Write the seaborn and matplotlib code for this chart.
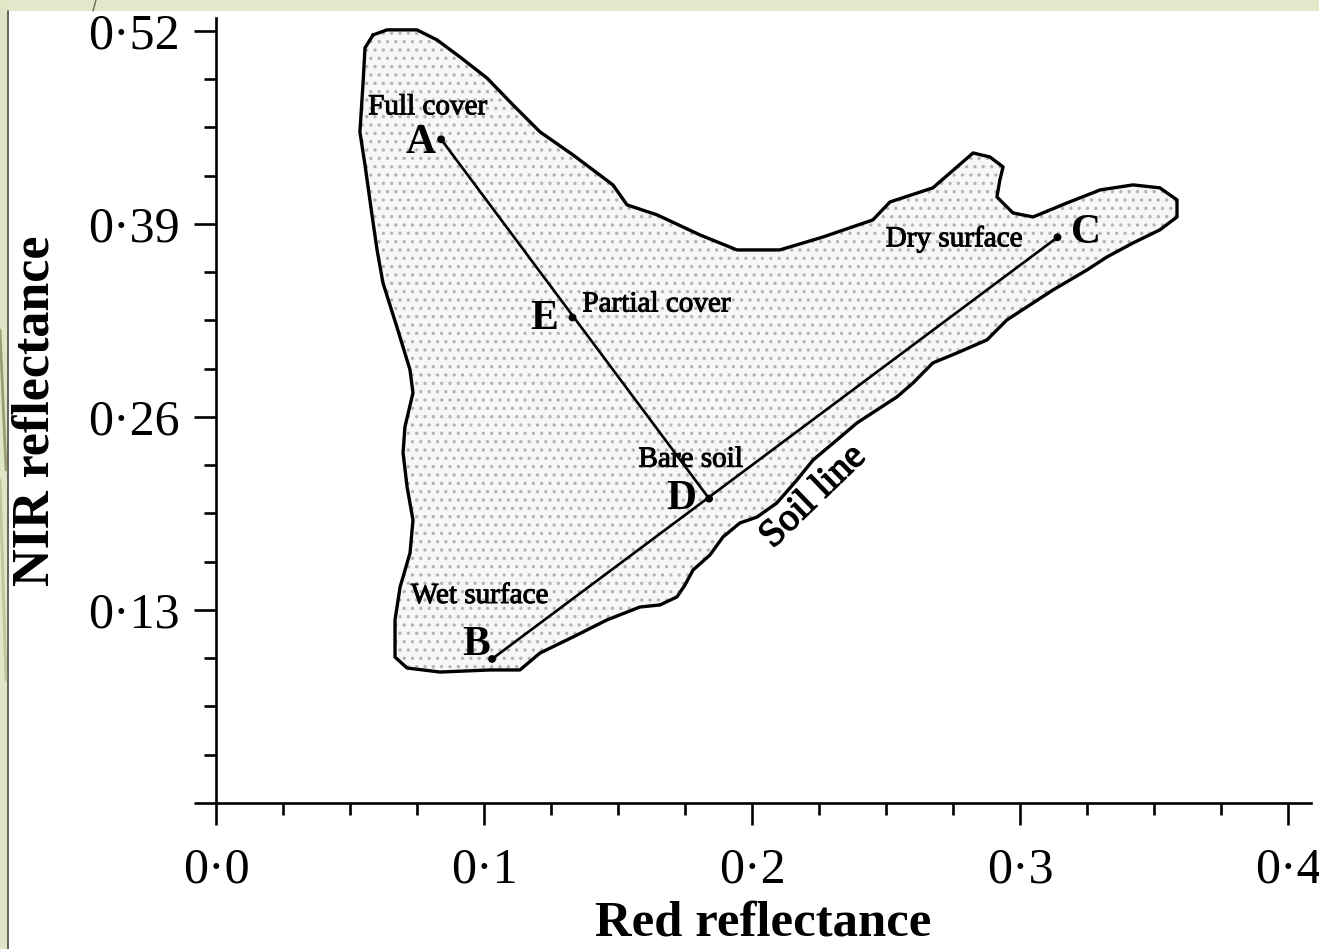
import matplotlib
matplotlib.use("Agg")
import matplotlib.pyplot as plt
from matplotlib.patches import Rectangle
from matplotlib.lines import Line2D
import matplotlib.patheffects as pe
import numpy as np
import pandas as pd
import seaborn as sns

# Surface states in red / NIR reflectance space
point_names = ["A", "B", "C", "D", "E"]
point_red = [0.084, 0.103, 0.314, 0.184, 0.133]
point_nir = [0.447, 0.097, 0.381, 0.205, 0.327]
point_desc = ["Full cover", "Wet surface", "Dry surface", "Bare soil", "Partial cover"]

# Segments joining the states: vegetation line A-D and soil line B-C
segment_starts = ["A", "B"]
segment_ends = ["D", "C"]

# Envelope of the observed pixel cloud
outline_red = [0.0586, 0.0556, 0.0549, 0.0537, 0.0556, 0.0582, 0.0601, 0.0623,
               0.0675, 0.0724, 0.0735, 0.0705, 0.0698, 0.0713, 0.0735, 0.0724,
               0.0687, 0.0668, 0.0668, 0.0713, 0.0836, 0.1022, 0.1134, 0.1209,
               0.1332, 0.1459, 0.1582, 0.1657, 0.1720, 0.1750, 0.1780, 0.1843,
               0.1892, 0.1955, 0.2019, 0.2093, 0.2168, 0.2228, 0.2317, 0.2392,
               0.2466, 0.2541, 0.2601, 0.2675, 0.2765, 0.2877, 0.2951, 0.3026,
               0.3123, 0.3250, 0.3325, 0.3422, 0.3522, 0.3586, 0.3586, 0.3522,
               0.3422, 0.3299, 0.3175, 0.3049, 0.2974, 0.2914, 0.2925, 0.2937,
               0.2888, 0.2825, 0.2765, 0.2675, 0.2515, 0.2451, 0.2265, 0.2104,
               0.1944, 0.1806, 0.1646, 0.1534, 0.1481, 0.1332, 0.1209, 0.1108,
               0.1011, 0.0910, 0.0825, 0.0750, 0.0638]
outline_nir = [0.5173, 0.5086, 0.4857, 0.4520, 0.4297, 0.3961, 0.3725, 0.3503,
               0.3206, 0.2917, 0.2762, 0.2533, 0.2358, 0.2129, 0.1906, 0.1684,
               0.1455, 0.1233, 0.0983, 0.0909, 0.0882, 0.0896, 0.0896, 0.1010,
               0.1118, 0.1233, 0.1320, 0.1334, 0.1388, 0.1468, 0.1569, 0.1670,
               0.1792, 0.1886, 0.1926, 0.2021, 0.2176, 0.2310, 0.2445, 0.2560,
               0.2647, 0.2735, 0.2829, 0.2964, 0.3031, 0.3119, 0.3253, 0.3341,
               0.3455, 0.3590, 0.3678, 0.3772, 0.3860, 0.3947, 0.4062, 0.4143,
               0.4163, 0.4129, 0.4041, 0.3947, 0.3974, 0.4082, 0.4196, 0.4284,
               0.4351, 0.4378, 0.4284, 0.4143, 0.4048, 0.3927, 0.3812, 0.3725,
               0.3725, 0.3826, 0.3961, 0.4028, 0.4163, 0.4365, 0.4520, 0.4702,
               0.4883, 0.5025, 0.5139, 0.5207, 0.5207]

x_ticks = [0.0, 0.1, 0.2, 0.3, 0.4]
x_tick_labels = ["0·0", "0·1", "0·2", "0·3", "0·4"]
y_ticks = [0.0, 0.13, 0.26, 0.39, 0.52]
y_tick_labels = ["", "0·13", "0·26", "0·39", "0·52"]

x_label = "Red reflectance"
y_label = "NIR reflectance"
soil_label = "Soil line"

sns.set_theme(style="ticks")
plt.rcParams["font.family"] = ["Liberation Serif", "DejaVu Serif"]
plt.rcParams["hatch.linewidth"] = 1.2

W, H = 1319, 949
fig = plt.figure(figsize=(W / 100, H / 100), dpi=100, facecolor="white")

# slide frame strips
fig.patches.append(Rectangle((0, 0), 7 / W, 1, transform=fig.transFigure,
                             facecolor="#dfe6c6", edgecolor="none", zorder=0))
fig.patches.append(Rectangle((7 / W, 1 - 11 / H), 1, 11 / H, transform=fig.transFigure,
                             facecolor="#e2e9cb", edgecolor="none", zorder=0))
fig.add_artist(Line2D([7.5 / W, 7.5 / W], [0, 1 - 11 / H], transform=fig.transFigure,
                      color="#4a4a3a", lw=1.2))
fig.add_artist(Line2D([0, 6 / W], [1 - 330 / H, 1 - 470 / H], transform=fig.transFigure,
                      color="#8c8a62", lw=2.0, alpha=0.8))
fig.add_artist(Line2D([0, 6 / W], [1 - 480 / H, 1 - 680 / H], transform=fig.transFigure,
                      color="#b9bc94", lw=2.0, alpha=0.8))
fig.add_artist(Line2D([93 / W, 96 / W], [1 - 11 / H, 1], transform=fig.transFigure,
                      color="#6b6a50", lw=1.0))

ax = fig.add_axes([216 / W, 1 - 803 / H, (1311 - 216) / W, (803 - 18) / H])
ax.set_facecolor("none")

# stippled cloud and its envelope
ax.fill(outline_red, outline_nir, facecolor="#f7f7f7", edgecolor="#b4b4b4",
        hatch="..", linewidth=0, zorder=1)
ax.plot(outline_red + outline_red[:1], outline_nir + outline_nir[:1], color="black",
        lw=2.4, solid_joinstyle="round", solid_capstyle="round", zorder=2)

pts = pd.DataFrame({"name": point_names, "red": point_red, "nir": point_nir,
                    "desc": point_desc}).set_index("name", drop=False)

seg_rows = []
for i, (s, e) in enumerate(zip(segment_starts, segment_ends)):
    for n in (s, e):
        seg_rows.append({"segment": i, "red": pts.loc[n, "red"], "nir": pts.loc[n, "nir"]})
seg_df = pd.DataFrame(seg_rows)

sns.lineplot(data=seg_df, x="red", y="nir", units="segment", estimator=None,
             sort=False, color="black", lw=1.9, ax=ax, zorder=3, legend=False)
sns.scatterplot(data=pts, x="red", y="nir", color="black", s=32, edgecolor="none",
                ax=ax, zorder=4, legend=False)

# label placement (offset points, alignment)
letter_style = {"A": (-3.6, -10.0, "right"), "B": (-1.4, 2.9, "right"),
                "C": (9.4, -4.3, "left"), "D": (-9.4, -7.2, "right"),
                "E": (-10.0, -8.6, "right")}
desc_style = {"A": (-9.7, 18.0, "center"), "B": (-9.0, 40.3, "center"),
              "C": (-25.2, -6.5, "right"), "D": (-13.3, 23.0, "center"),
              "E": (7.2, 4.3, "left")}
heavy = [pe.withStroke(linewidth=0.7, foreground="black")]

for n in point_names:
    xy = (pts.loc[n, "red"], pts.loc[n, "nir"])
    dx, dy, ha = letter_style[n]
    ax.annotate(n, xy, xytext=(dx, dy), textcoords="offset points", ha=ha,
                va="baseline", fontsize=30, fontweight="bold", color="black", zorder=5)
    dx, dy, ha = desc_style[n]
    ax.annotate(pts.loc[n, "desc"], xy, xytext=(dx, dy), textcoords="offset points",
                ha=ha, va="baseline", fontsize=21, color="black", zorder=5,
                path_effects=heavy)

ax.annotate(soil_label, (pts.loc["D", "red"], pts.loc["D", "nir"]), xytext=(75, 1.4),
            textcoords="offset points", ha="center", va="center", rotation=44,
            rotation_mode="anchor", fontsize=28, color="black", zorder=5,
            path_effects=[pe.withStroke(linewidth=1.0, foreground="black")])

ax.set_xlim(0, 0.4086)
ax.set_ylim(0, 0.5287)
ax.set_xticks(x_ticks)
ax.set_xticklabels(x_tick_labels)
ax.set_yticks(y_ticks)
ax.set_yticklabels(y_tick_labels)
ax.set_xticks(np.arange(0.025, 0.4, 0.025)[np.arange(1, 16) % 4 != 0], minor=True)
ax.set_yticks(np.arange(0.0325, 0.52, 0.0325)[np.arange(1, 16) % 4 != 0], minor=True)

sns.despine(ax=ax)
for sp in ("left", "bottom"):
    ax.spines[sp].set_linewidth(1.9)
    ax.spines[sp].set_color("black")
ax.tick_params(which="major", direction="out", length=16, width=1.9, color="black",
               labelsize=36, labelcolor="black", pad=10)
ax.tick_params(which="minor", direction="out", length=8.5, width=1.9, color="black")
ax.tick_params(axis="x", which="major", pad=16)

ax.set_xlabel(x_label, fontsize=36.5, fontweight="bold", color="black", va="center")
ax.set_ylabel(y_label, fontsize=37.5, fontweight="bold", color="black", va="center")
ax.xaxis.set_label_coords(0.5, (803 - 924) / 785)
ax.yaxis.set_label_coords((36 - 216) / 1095, 0.5)

fig.savefig("out.png", dpi=100, facecolor="white")
